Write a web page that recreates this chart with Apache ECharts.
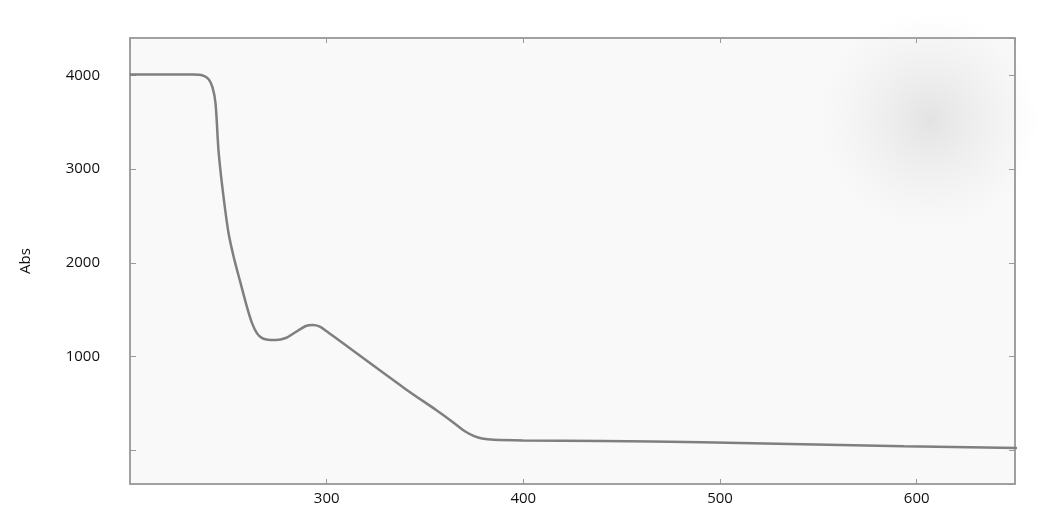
<!DOCTYPE html>
<html>
<head>
<meta charset="utf-8">
<script src="https://cdn.jsdelivr.net/npm/echarts@6/dist/echarts.min.js"></script>
<style>
html,body{margin:0;padding:0;background:#fff;}
#chart{width:1061px;height:523px;}
</style>
</head>
<body>
<div id="chart"></div>
<script>
// Wavelength (nm)
var wavelength = [200, 232, 237, 240, 242, 243.5, 245, 247, 250, 253, 256.2, 259.6, 262, 264.5, 267, 270, 274.1, 279.2, 284.3, 289.4, 293, 296.5, 300, 339.5, 356, 362, 366.5, 370.5, 375, 379, 385, 400, 440, 491, 542, 593.5, 651];
// Absorbance
var absorbance = [4010, 4010, 4000, 3960, 3870, 3700, 3200, 2800, 2330, 2040, 1786, 1520, 1360, 1250, 1200, 1180, 1176, 1198, 1262, 1326, 1337, 1320, 1270, 663, 425, 335, 262, 200, 150, 125, 112, 105, 98, 86, 64, 43, 25];
var yTickLabels = [1000, 2000, 3000, 4000];
var xTickLabels = [300, 400, 500, 600];

var points = wavelength.map(function (w, i) { return [w, absorbance[i]]; });

var chart = echarts.init(document.getElementById('chart'), null, {renderer: 'canvas'});
var labelFont = {fontFamily: 'Open Sans', fontSize: 15, color: '#111'};
var boxLine = {show: true, onZero: false, lineStyle: {color: '#9a9a9a', width: 1.5}};
chart.setOption({
  backgroundColor: '#ffffff',
  animation: false,
  graphic: [{
    type: 'ellipse',
    shape: {cx: 930, cy: 120, rx: 160, ry: 110},
    silent: true,
    style: {
      fill: {
        type: 'radial', x: 0.5, y: 0.5, r: 0.5,
        colorStops: [{offset: 0, color: 'rgba(170,170,170,0.28)'}, {offset: 1, color: 'rgba(200,200,200,0)'}]
      }
    },
    z: 100
  }],
  grid: {
    left: 130, right: 46, top: 38, bottom: 39,
    show: true, backgroundColor: '#f8f9f8', borderColor: '#9a9a9a', borderWidth: 1.5
  },
  xAxis: [{
    type: 'value', min: 200, max: 650, interval: 100,
    axisLine: boxLine,
    axisTick: {show: true, inside: true, length: 5, lineStyle: {color: '#999'}},
    splitLine: {show: false},
    axisLabel: Object.assign({
      margin: 7, showMinLabel: false, showMaxLabel: false,
      formatter: function (v) { return xTickLabels.indexOf(v) >= 0 ? String(v) : ''; }
    }, labelFont)
  }, {
    type: 'value', min: 200, max: 650, interval: 100, position: 'top',
    axisLine: boxLine,
    axisTick: {show: true, inside: true, length: 5, lineStyle: {color: '#999'}},
    splitLine: {show: false}, axisLabel: {show: false}
  }],
  yAxis: [{
    type: 'value', min: -360, max: 4400, splitNumber: 5,
    name: 'Abs', nameLocation: 'middle', nameGap: 97, nameRotate: 90,
    nameTextStyle: {fontFamily: 'Open Sans', fontSize: 15, color: '#111'},
    axisLine: boxLine,
    axisTick: {show: true, inside: true, length: 6, lineStyle: {color: '#999'}},
    splitLine: {show: false},
    axisLabel: Object.assign({
      margin: 30, showMinLabel: false, showMaxLabel: false,
      formatter: function (v) { return yTickLabels.indexOf(v) >= 0 ? String(v) : ''; }
    }, labelFont)
  }, {
    type: 'value', min: -360, max: 4400, splitNumber: 5, position: 'right',
    axisLine: boxLine,
    axisTick: {show: true, inside: true, length: 6, lineStyle: {color: '#999'}},
    splitLine: {show: false}, axisLabel: {show: false}
  }],
  series: [{
    type: 'line',
    data: points,
    smooth: 0.3,
    showSymbol: false,
    lineStyle: {color: '#7f7f7f', width: 2.5}
  }]
});
</script>
</body>
</html>
